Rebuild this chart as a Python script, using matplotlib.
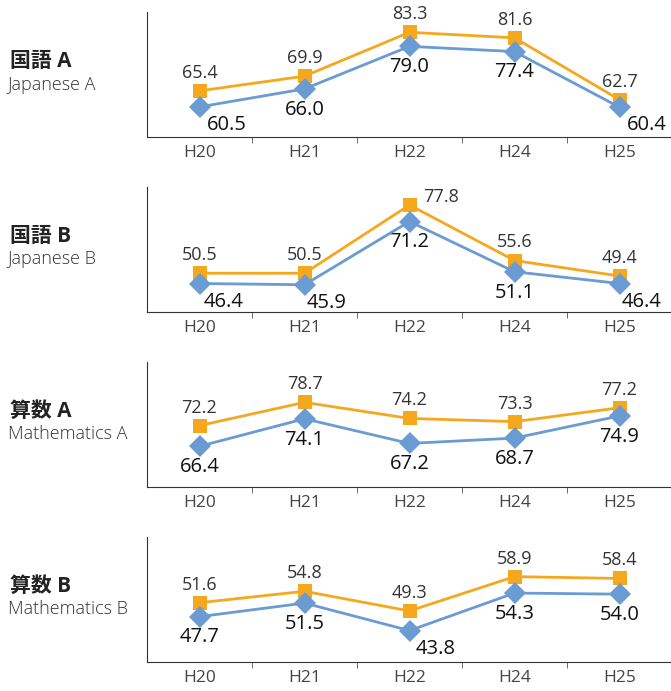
import matplotlib
matplotlib.use("Agg")
import matplotlib.pyplot as plt

plt.rcParams['font.family'] = ['Open Sans', 'Noto Sans CJK JP', 'DejaVu Sans']

# data
years = ["H20", "H21", "H22", "H24", "H25"]
subjects_jp = ["国語 A", "国語 B", "算数 A", "算数 B"]
subjects_en = ["Japanese A", "Japanese B", "Mathematics A", "Mathematics B"]

orange_vals = [
    [65.4, 69.9, 83.3, 81.6, 62.7],
    [50.5, 50.5, 77.8, 55.6, 49.4],
    [72.2, 78.7, 74.2, 73.3, 77.2],
    [51.6, 54.8, 49.3, 58.9, 58.4],
]
blue_vals = [
    [60.5, 66.0, 79.0, 77.4, 60.4],
    [46.4, 45.9, 71.2, 51.1, 46.4],
    [66.4, 74.1, 67.2, 68.7, 74.9],
    [47.7, 51.5, 43.8, 54.3, 54.0],
]
ylims = [(51.3, 89.5), (35, 85), (55, 90), (35, 70)]

# label offsets (points) for labels that are nudged aside
orange_off = [
    [(0, 13)] * 5,
    [(0, 13), (0, 13), (23, 6), (0, 13), (0, 13)],
    [(0, 13)] * 5,
    [(0, 13)] * 5,
]
blue_off = [
    [(20, -13), (0, -15), (0, -15), (0, -15), (20, -13)],
    [(17, -13), (16, -13), (0, -15), (0, -15), (16, -13)],
    [(0, -15)] * 5,
    [(0, -15), (0, -15), (19, -13), (0, -15), (0, -15)],
]

ORANGE = "#F5A81E"
BLUE = "#6A9BD2"

fig = plt.figure(figsize=(6.71, 6.91), dpi=100)
W, H = 671, 691
tops = [12, 187, 362, 537]
ax_h = 125
x = list(range(len(years)))

for i in range(4):
    top = tops[i]
    ax = fig.add_axes([147 / W, 1 - (top + ax_h) / H, 525 / W, ax_h / H])
    ax.plot(x, orange_vals[i], color=ORANGE, lw=2, marker="s", ms=10,
            markeredgewidth=0, zorder=3)
    ax.plot(x, blue_vals[i], color=BLUE, lw=2, marker="D", ms=11,
            markeredgewidth=0, zorder=4)
    for j in x:
        ax.annotate(f"{orange_vals[i][j]:.1f}", (j, orange_vals[i][j]),
                    xytext=orange_off[i][j], textcoords="offset points",
                    ha="center", va="center", fontsize=13, color="#333333")
        ax.annotate(f"{blue_vals[i][j]:.1f}", (j, blue_vals[i][j]),
                    xytext=blue_off[i][j], textcoords="offset points",
                    ha="center", va="center", fontsize=14.5, color="#111111")
    ax.set_xlim(-0.5, len(years) - 0.5)
    ax.set_ylim(*ylims[i])
    ax.spines["top"].set_visible(False)
    ax.spines["right"].set_visible(False)
    ax.spines["left"].set_color("#333333")
    ax.spines["bottom"].set_color("#333333")
    ax.set_yticks([])
    ax.set_xticks(x)
    ax.set_xticklabels(years, fontsize=12.5, color="#444444")
    ax.tick_params(axis="x", which="major", length=0, pad=6)
    ax.set_xticks([k + 0.5 for k in x], minor=True)
    ax.tick_params(axis="x", which="minor", length=4, color="#555555")
    ax.patch.set_alpha(0)

    cy = top + ax_h / 2
    fig.text(10 / W, 1 - (cy - 13) / H, subjects_jp[i], fontsize=15,
             fontweight="bold", color="#222222", va="center", ha="left")
    fig.text(8 / W, 1 - (cy + 10) / H, subjects_en[i], fontsize=13,
             color="#333333", va="center", ha="left", fontweight="light")

fig.savefig("out.png", dpi=100)
